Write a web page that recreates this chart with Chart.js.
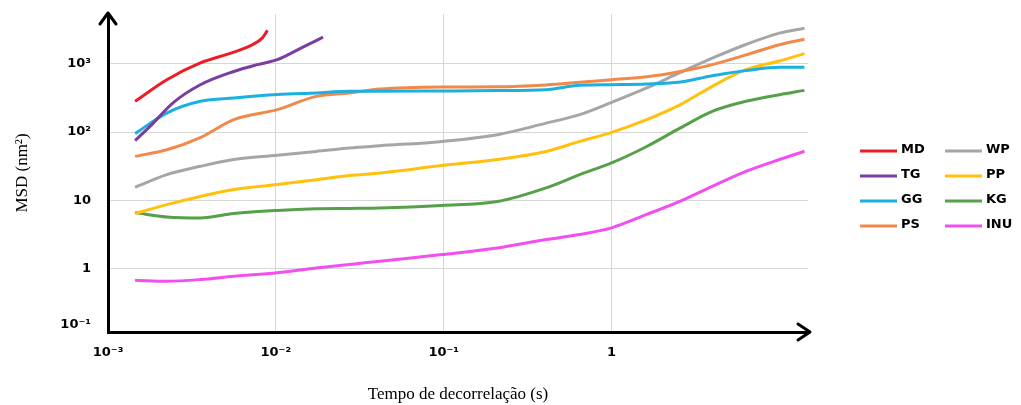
<!DOCTYPE html>
<html>
<head>
<meta charset="utf-8">
<title>MSD</title>
<script src="https://cdn.jsdelivr.net/npm/chart.js@4/dist/chart.umd.min.js"></script>
<style>
  html, body { margin: 0; padding: 0; background: #fff; }
  #wrap { width: 1021px; height: 405px; }
</style>
</head>
<body>
<div id="wrap"><canvas id="msdChart" width="1021" height="405"></canvas></div>
<script>
// decorrelation time (s) shared by the long series
const tLong = [0.00145, 0.00224, 0.00355, 0.00562, 0.0102, 0.0174, 0.0275, 0.0417, 0.0977, 0.209,
               0.407, 0.646, 1.0, 1.62, 2.57, 3.98, 6.31, 10.0, 14.1];

const mdT   = [0.00145, 0.00224, 0.00355, 0.00562, 0.00724, 0.00832, 0.00891];
const mdMSD = [282, 585, 1030, 1480, 1900, 2400, 3090];

const tgT   = [0.00145, 0.00178, 0.00245, 0.00355, 0.00562, 0.00776, 0.0102, 0.0141, 0.0191];
const tgMSD = [75, 121, 270, 493, 772, 972, 1150, 1700, 2460];

const ggMSD  = [95, 190, 282, 315, 354, 375, 396, 396, 400, 405, 418, 485, 495, 505, 540, 670, 795, 890, 890];
const psMSD  = [44, 55, 83, 152, 213, 333, 373, 426, 457, 460, 490, 535, 585, 645, 772, 972, 1350, 1900, 2290];
const wpMSD  = [15.5, 23.8, 31.5, 39.6, 45.6, 52, 58.5, 63, 73, 91.5, 135, 180, 272, 443, 748, 1210, 1920, 2820, 3330];
const ppMSD  = [6.4, 8.65, 11.4, 14.4, 17, 20, 23, 25.2, 32.3, 39.6, 52, 73, 99, 152, 252, 468, 820, 1100, 1410];
const kgMSD  = [6.6, 5.7, 5.5, 6.4, 7.1, 7.5, 7.6, 7.7, 8.4, 9.6, 15.2, 23.8, 35.3, 61.5, 115, 201, 282, 353, 408];
const inuMSD = [0.674, 0.652, 0.69, 0.77, 0.865, 1.02, 1.15, 1.28, 1.6, 2.0, 2.66, 3.15, 3.95, 6.2, 9.7, 16, 26.5, 39.6, 52.3];

const seriesNames  = ['MD', 'TG', 'GG', 'PS', 'WP', 'PP', 'KG', 'INU'];
const seriesColors = ['#ee1c24', '#7a3ea0', '#1ab0e0', '#f0894a', '#a6a6a6', '#ffc10e', '#56a04a', '#f24ef0'];

const xTickValues = [0.001, 0.01, 0.1, 1];
const xTickLabels = ['10⁻³', '10⁻²', '10⁻¹', '1'];
const yTickValues = [0.1, 1, 10, 100, 1000];
const yTickLabels = ['10⁻¹', '1', '10', '10²', '10³'];

const xMin = 0.001, xMax = 14.8;
const yMin = Math.pow(10, -0.93), yMax = Math.pow(10, 3.73);

function pts(xs, ys) {
    return ys.map((y, i) => ({ x: xs[i], y: y }));
}

const seriesData = [
    pts(mdT, mdMSD), pts(tgT, tgMSD),
    pts(tLong, ggMSD), pts(tLong, psMSD), pts(tLong, wpMSD),
    pts(tLong, ppMSD), pts(tLong, kgMSD), pts(tLong, inuMSD)
];

const tickFont = { family: 'DejaVu Sans', size: 13, weight: 'bold' };

// arrows at the ends of the axes + the two-column legend on the right
const axisExtras = {
    id: 'axisExtras',
    afterDraw(chart) {
        const ctx = chart.ctx;
        const a = chart.chartArea;
        ctx.save();
        ctx.strokeStyle = '#000';
        ctx.lineWidth = 3;
        ctx.lineCap = 'round';
        ctx.lineJoin = 'round';
        ctx.beginPath();
        ctx.moveTo(a.left - 8, a.top + 10);
        ctx.lineTo(a.left, a.top - 1);
        ctx.lineTo(a.left + 8, a.top + 10);
        ctx.moveTo(a.left, a.top + 2);
        ctx.lineTo(a.left, a.top - 1);
        ctx.stroke();
        ctx.beginPath();
        ctx.moveTo(a.right - 10, a.bottom - 8);
        ctx.lineTo(a.right + 2, a.bottom);
        ctx.lineTo(a.right - 10, a.bottom + 8);
        ctx.moveTo(a.right - 2, a.bottom);
        ctx.lineTo(a.right + 2, a.bottom);
        ctx.stroke();

        // legend
        ctx.font = 'bold 13px "DejaVu Sans"';
        ctx.textBaseline = 'middle';
        ctx.textAlign = 'left';
        ctx.lineCap = 'butt';
        chart.data.datasets.forEach((ds, i) => {
            const col = Math.floor(i / 4), row = i % 4;
            const lx = col === 0 ? 860 : 945;
            const y = 151 + row * 25;
            ctx.strokeStyle = ds.borderColor;
            ctx.lineWidth = 3;
            ctx.beginPath();
            ctx.moveTo(lx, y);
            ctx.lineTo(lx + 37, y);
            ctx.stroke();
            ctx.fillStyle = '#000';
            ctx.fillText(ds.label, lx + 41, y - 1);
        });
        ctx.restore();
    }
};

new Chart(document.getElementById('msdChart').getContext('2d'), {
    type: 'line',
    data: {
        datasets: seriesNames.map((name, i) => ({
            label: name,
            data: seriesData[i],
            borderColor: seriesColors[i],
            backgroundColor: seriesColors[i],
            borderWidth: 3,
            pointRadius: 0,
            fill: false,
            cubicInterpolationMode: 'monotone'
        }))
    },
    options: {
        responsive: false,
        animation: false,
        layout: { padding: { left: 0, right: 213, top: 14, bottom: 0 } },
        plugins: {
            legend: { display: false },
            tooltip: { enabled: false }
        },
        scales: {
            x: {
                type: 'logarithmic',
                min: xMin,
                max: xMax,
                afterBuildTicks: s => { s.ticks = xTickValues.map(v => ({ value: v })); },
                afterFit: s => { s.height = 73; s.paddingLeft = 0; s.paddingRight = 0; },
                ticks: {
                    font: tickFont,
                    color: '#000',
                    padding: 13,
                    maxRotation: 0,
                    autoSkip: false,
                    callback: (v, i) => xTickLabels[i]
                },
                grid: { color: '#d6d6d6', lineWidth: 1, drawTicks: false },
                border: { color: '#000', width: 3 },
                title: {
                    display: true,
                    text: 'Tempo de decorrelação (s)',
                    font: { family: 'Liberation Serif', size: 17 },
                    color: '#000',
                    padding: { top: 0, bottom: 0 }
                }
            },
            y: {
                type: 'logarithmic',
                min: yMin,
                max: yMax,
                afterBuildTicks: s => { s.ticks = yTickValues.map(v => ({ value: Math.max(v, yMin) })); },
                afterFit: s => { s.width = 108; s.paddingTop = 0; s.paddingBottom = 0; },
                ticks: {
                    font: tickFont,
                    color: '#000',
                    padding: 17,
                    autoSkip: false,
                    callback: (v, i) => i === 0 ? [yTickLabels[i], ''] : yTickLabels[i]
                },
                grid: { color: '#d6d6d6', lineWidth: 1, drawTicks: false },
                border: { color: '#000', width: 3 },
                title: {
                    display: true,
                    text: 'MSD (nm²)',
                    font: { family: 'Liberation Serif', size: 17 },
                    color: '#000',
                    padding: { top: 12, bottom: 0 }
                }
            }
        }
    },
    plugins: [axisExtras]
});
</script>
</body>
</html>
